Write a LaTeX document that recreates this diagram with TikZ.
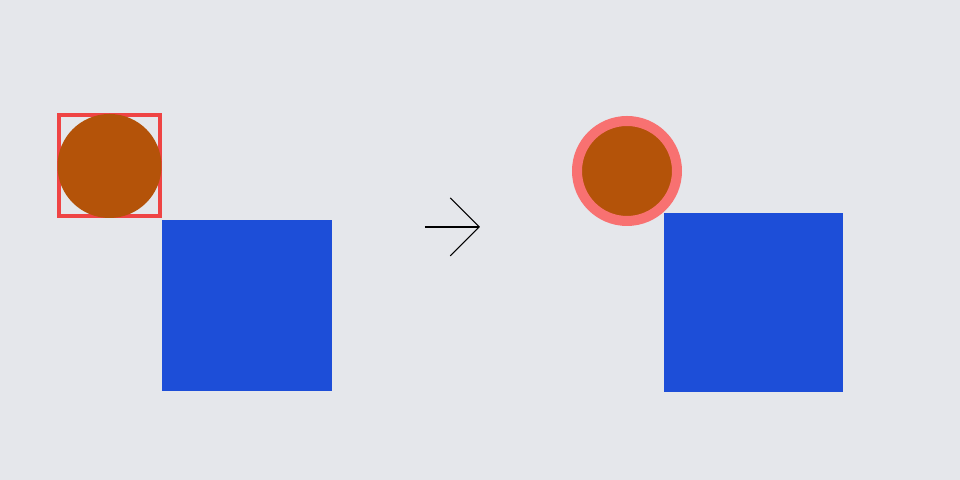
\documentclass[tikz,border=0pt]{standalone}
\usetikzlibrary{arrows.meta}
\definecolor{bggray}{HTML}{E5E7EB}
\definecolor{boxred}{HTML}{EF4444}
\definecolor{ringpink}{HTML}{F87171}
\definecolor{ballorange}{HTML}{B45309}
\definecolor{blockblue}{HTML}{1D4ED8}
\begin{document}
\begin{tikzpicture}[
    ball/.style={circle,fill=ballorange,inner sep=0pt},
    block/.style={rectangle,fill=blockblue,inner sep=0pt}]
            \fill [bggray] (0,0) rectangle (9.6,4.8);
            \useasboundingbox (0,0) rectangle (9.6,4.8);
            % before
            \node [draw=boxred,line width=0.04cm,minimum size=1.01cm,inner sep=0pt] (frame) at (1.095,3.14) {};
            \node [ball,minimum size=1.04cm] (ballA) at (1.095,3.14) {};
            \node [block,minimum width=1.70cm,minimum height=1.71cm] (blockA) at (2.47,1.745) {};
            % arrow
            \coordinate (from) at (4.25,2.53);
            \coordinate (to) at (4.80,2.53);
            \draw [-{Straight Barb[length=0.29cm,width=0.58cm]},line width=0.3pt] (from) -- (to);
            % after
            \node [ball,draw=ringpink,line width=0.1cm,minimum size=1.0cm] (ballB) at (6.27,3.09) {};
            \node [block,minimum width=1.79cm,minimum height=1.79cm] (blockB) at (7.535,1.775) {};
        \end{tikzpicture}
\end{document}
